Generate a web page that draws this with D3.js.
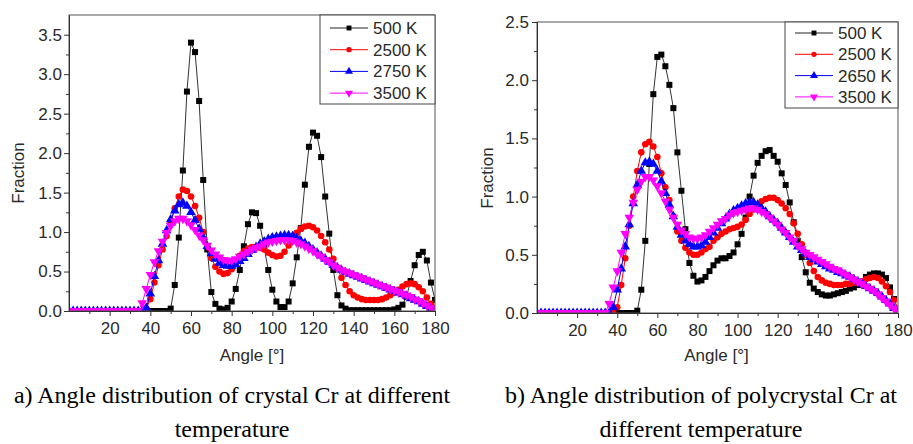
<!DOCTYPE html>
<html>
<head>
<meta charset="utf-8">
<script src="https://cdn.jsdelivr.net/npm/d3@7/dist/d3.min.js"></script>
<style>
  body { margin: 0; background: #fff; }
  svg { display: block; }
</style>
</head>
<body>
<svg id="fig" width="913" height="444"></svg>
<script>
// angles (degrees), one sample every 2 degrees
var angles = [0,2,4,6,8,10,12,14,16,18, 20,22,24,26,28,30,32,34,36,38,
  40,42,44,46,48,50,52,54,56,58, 60,62,64,66,68,70,72,74,76,78,
  80,82,84,86,88,90,92,94,96,98, 100,102,104,106,108,110,112,114,116,118,
  120,122,124,126,128,130,132,134,136,138, 140,142,144,146,148,150,152,154,156,158,
  160,162,164,166,168,170,172,174,176,178, 180];

// a) crystal Cr
var crystal500 = [0,0,0,0,0,0,0,0,0,0, 0,0,0,0,0,0,0,0,0,0,
  0,0,0,0,0,0.03,0.33,0.93,1.78,2.78, 3.40,3.28,2.66,1.66,0.78,0.24,0.09,0.03,0.02,0.04,
  0.12,0.28,0.52,0.82,1.10,1.25,1.24,1.08,0.80,0.52, 0.27,0.12,0.05,0.05,0.12,0.35,0.68,1.05,1.60,2.08,
  2.26,2.22,1.95,1.45,0.98,0.52,0.20,0.07,0.03,0.01, 0.01,0.01,0.01,0.01,0.01,0.01,0.01,0.01,0.01,0.01,
  0.02,0.04,0.08,0.18,0.38,0.58,0.71,0.75,0.64,0.36, 0.14];
var crystal2500 = [0,0,0,0,0,0,0,0,0,0, 0,0,0,0,0,0,0,0,0,0.03,
  0.15,0.36,0.58,0.78,0.95,1.12,1.30,1.45,1.54,1.52, 1.45,1.33,1.18,1.00,0.82,0.67,0.56,0.50,0.47,0.48,
  0.53,0.62,0.70,0.76,0.79,0.81,0.81,0.80,0.78,0.74, 0.71,0.69,0.70,0.75,0.83,0.92,0.99,1.04,1.07,1.08,
  1.06,1.02,0.95,0.87,0.78,0.66,0.54,0.42,0.33,0.25, 0.20,0.17,0.15,0.14,0.14,0.14,0.14,0.15,0.17,0.20,
  0.23,0.27,0.31,0.34,0.35,0.34,0.30,0.25,0.17,0.09, 0.04];
var crystal2750 = [0,0,0,0,0,0,0,0,0,0, 0,0,0,0,0,0,0,0,0,0.04,
  0.22,0.44,0.64,0.85,1.02,1.16,1.27,1.35,1.37,1.33, 1.25,1.15,1.04,0.93,0.82,0.73,0.66,0.61,0.58,0.57,
  0.57,0.59,0.63,0.67,0.72,0.77,0.81,0.85,0.88,0.91, 0.93,0.94,0.95,0.96,0.96,0.95,0.92,0.89,0.86,0.82,
  0.78,0.74,0.70,0.66,0.62,0.58,0.55,0.52,0.49,0.47, 0.45,0.43,0.41,0.39,0.37,0.35,0.33,0.31,0.29,0.27,
  0.25,0.23,0.21,0.19,0.16,0.14,0.12,0.09,0.06,0.03, 0.01];
var crystal3500 = [0,0,0,0,0,0,0,0,0,0, 0,0,0,0,0,0,0,0,0.10,0.28,
  0.46,0.62,0.76,0.88,0.99,1.08,1.14,1.17,1.17,1.14, 1.09,1.03,0.96,0.90,0.83,0.77,0.72,0.68,0.65,0.64,
  0.64,0.66,0.69,0.72,0.75,0.78,0.80,0.82,0.85,0.87, 0.88,0.89,0.90,0.90,0.90,0.89,0.87,0.85,0.82,0.79,
  0.76,0.72,0.69,0.65,0.62,0.58,0.55,0.52,0.50,0.48, 0.46,0.44,0.42,0.40,0.38,0.36,0.34,0.32,0.30,0.28,
  0.26,0.24,0.22,0.20,0.18,0.15,0.13,0.10,0.07,0.04, 0.01];

// b) polycrystal Cr
var poly500 = [0,0,0,0,0,0,0,0,0,0, 0,0,0,0,0,0,0,0,0,0,
  0,0,0,0,0,0.02,0.20,0.62,1.28,1.88, 2.20,2.22,2.12,1.96,1.76,1.38,1.05,0.72,0.43,0.32,
  0.27,0.28,0.31,0.36,0.41,0.45,0.47,0.47,0.49,0.52, 0.59,0.68,0.82,1.00,1.18,1.29,1.35,1.39,1.40,1.35,
  1.30,1.20,1.10,0.95,0.78,0.62,0.48,0.35,0.26,0.21, 0.18,0.16,0.15,0.15,0.16,0.17,0.18,0.19,0.21,0.22,
  0.24,0.27,0.31,0.33,0.34,0.34,0.33,0.30,0.22,0.12, 0.03];
var poly2500 = [0,0,0,0,0,0,0,0,0,0, 0,0,0,0,0,0,0,0,0,0,
  0.05,0.24,0.47,0.75,1.00,1.22,1.38,1.45,1.47,1.43, 1.34,1.20,1.08,0.97,0.83,0.70,0.62,0.56,0.52,0.50,
  0.50,0.52,0.55,0.57,0.62,0.65,0.68,0.70,0.72,0.73, 0.74,0.76,0.80,0.85,0.89,0.93,0.96,0.98,0.99,0.99,
  0.97,0.94,0.90,0.85,0.77,0.68,0.59,0.50,0.43,0.36, 0.31,0.28,0.26,0.25,0.24,0.24,0.24,0.25,0.25,0.26,
  0.26,0.27,0.29,0.30,0.31,0.30,0.27,0.23,0.18,0.11, 0.04];
var poly2650 = [0,0,0,0,0,0,0,0,0,0, 0,0,0,0,0,0,0,0,0,0.05,
  0.20,0.38,0.57,0.76,0.94,1.10,1.22,1.29,1.30,1.28, 1.22,1.13,1.03,0.93,0.83,0.74,0.67,0.62,0.59,0.57,
  0.57,0.58,0.61,0.65,0.69,0.73,0.77,0.81,0.85,0.88, 0.90,0.92,0.94,0.95,0.95,0.93,0.90,0.87,0.83,0.80,
  0.77,0.73,0.69,0.65,0.61,0.57,0.54,0.51,0.48,0.46, 0.44,0.42,0.40,0.38,0.37,0.35,0.34,0.32,0.31,0.29,
  0.27,0.25,0.23,0.21,0.19,0.17,0.14,0.11,0.08,0.04, 0.01];
var poly3500 = [0,0,0,0,0,0,0,0,0,0, 0,0,0,0,0,0,0,0,0.08,0.22,
  0.36,0.52,0.68,0.82,0.95,1.06,1.13,1.17,1.17,1.14, 1.09,1.03,0.96,0.89,0.82,0.76,0.71,0.68,0.65,0.64,
  0.64,0.65,0.67,0.70,0.73,0.76,0.79,0.81,0.84,0.86, 0.87,0.88,0.89,0.90,0.90,0.89,0.87,0.85,0.82,0.79,
  0.76,0.72,0.69,0.65,0.62,0.58,0.55,0.52,0.50,0.48, 0.46,0.44,0.42,0.40,0.38,0.37,0.35,0.33,0.31,0.29,
  0.27,0.25,0.23,0.21,0.19,0.16,0.13,0.10,0.07,0.04, 0.01];

var xTicks = [20, 40, 60, 80, 100, 120, 140, 160, 180];
var xMinorTicks = [10, 30, 50, 70, 90, 110, 130, 150, 170];
var yTicksA = [0, 0.5, 1.0, 1.5, 2.0, 2.5, 3.0, 3.5];
var yMinorA = [0.25, 0.75, 1.25, 1.75, 2.25, 2.75, 3.25];
var yTicksB = [0, 0.5, 1.0, 1.5, 2.0, 2.5];
var yMinorB = [0.25, 0.75, 1.25, 1.75, 2.25];

var labelsA = ["500 K", "2500 K", "2750 K", "3500 K"];
var labelsB = ["500 K", "2500 K", "2650 K", "3500 K"];
var colors = ["#000000", "#ff0000", "#0000ff", "#ff00ff"];
var symbols = [d3.symbolSquare, d3.symbolCircle, d3.symbolTriangle, d3.symbolTriangle];
var symbolSize = [36, 34, 40, 40];
var legendSize = [24, 22, 28, 28];
var symbolRot = [0, 0, 0, 180];

var svg = d3.select("#fig");
var sansFont = "'Liberation Sans', Arial, sans-serif";
var textColor = "#2a2a2a";

function drawPanel(p) {
    var x = d3.scaleLinear().domain([0, 180]).range([p.left, p.right]);
    var y = d3.scaleLinear().domain([0, p.ymax]).range([p.bottom, p.top]);

    var g = svg.append("g");

    // clip so markers get cut at the frame like the original
    g.append("clipPath").attr("id", p.id + "-clip")
        .append("rect")
        .attr("x", p.left).attr("y", p.top)
        .attr("width", p.right - p.left).attr("height", p.bottom - p.top);

    var plot = g.append("g").attr("clip-path", "url(#" + p.id + "-clip)");

    var line = d3.line()
        .x(function (d) { return x(d[0]); })
        .y(function (d) { return y(d[1]); });

    p.series.forEach(function (vals, k) {
        var pts = angles.map(function (a, i) { return [a, vals[i]]; });
        plot.append("path")
            .datum(pts)
            .attr("d", line)
            .attr("fill", "none")
            .attr("stroke", k === 0 ? "#333" : colors[k])
            .attr("stroke-width", 1);
        plot.selectAll(".m" + k)
            .data(pts)
            .enter()
            .append("path")
            .attr("d", d3.symbol().type(symbols[k]).size(symbolSize[k]))
            .attr("transform", function (d) {
                return "translate(" + x(d[0]) + "," + y(d[1]) + ") rotate(" + symbolRot[k] + ")";
            })
            .attr("fill", colors[k]);
    });

    // frame
    g.append("rect")
        .attr("x", p.left).attr("y", p.top)
        .attr("width", p.right - p.left).attr("height", p.bottom - p.top)
        .attr("fill", "none").attr("stroke", "#555").attr("stroke-width", 1);

    // axes
    g.append("g")
        .attr("transform", "translate(0," + p.bottom + ")")
        .call(d3.axisBottom(x).tickValues(xTicks).tickSize(5).tickPadding(6).tickSizeOuter(0));
    g.append("g")
        .attr("transform", "translate(0," + p.bottom + ")")
        .call(d3.axisBottom(x).tickValues(xMinorTicks).tickSize(3).tickFormat("").tickSizeOuter(0));

    g.append("g")
        .attr("transform", "translate(" + p.left + ",0)")
        .call(d3.axisLeft(y).tickValues(p.yTicks).tickSize(5).tickPadding(p.yPad)
            .tickFormat(d3.format(".1f")).tickSizeOuter(0));
    g.append("g")
        .attr("transform", "translate(" + p.left + ",0)")
        .call(d3.axisLeft(y).tickValues(p.yMinor).tickSize(3).tickFormat("").tickSizeOuter(0));

    g.selectAll(".domain, .tick line").attr("stroke", "#333");
    g.selectAll(".tick text")
        .attr("font-family", sansFont)
        .attr("font-size", 17)
        .attr("fill", textColor);

    // axis titles
    g.append("text")
        .attr("x", (p.left + p.right) / 2 + p.xTitleShift)
        .attr("y", 361)
        .attr("text-anchor", "middle")
        .attr("font-family", sansFont).attr("font-size", 17).attr("fill", textColor)
        .text("Angle [°]");
    g.append("text")
        .attr("transform", "translate(" + p.yTitleX + "," + p.yTitleY + ") rotate(-90)")
        .attr("text-anchor", "middle")
        .attr("font-family", sansFont).attr("font-size", 17).attr("fill", textColor)
        .text("Fraction");

    // legend
    var lg = g.append("g");
    lg.append("rect")
        .attr("x", p.legX).attr("y", p.top)
        .attr("width", p.right - p.legX).attr("height", p.legH)
        .attr("fill", "#fff").attr("stroke", "#444").attr("stroke-width", 1);
    p.labels.forEach(function (lab, k) {
        var ry = p.top + p.legRow0 + k * p.legStep;
        lg.append("line")
            .attr("x1", p.legX + 10).attr("x2", p.legX + 48)
            .attr("y1", ry).attr("y2", ry)
            .attr("stroke", k === 0 ? "#222" : colors[k]).attr("stroke-width", 1);
        lg.append("path")
            .attr("d", d3.symbol().type(symbols[k]).size(legendSize[k]))
            .attr("transform", "translate(" + (p.legX + 29) + "," + ry + ") rotate(" + symbolRot[k] + ")")
            .attr("fill", colors[k]);
        lg.append("text")
            .attr("x", p.legX + 53).attr("y", ry + 6)
            .attr("font-family", sansFont).attr("font-size", 17).attr("fill", textColor)
            .text(lab);
    });

    // caption
    p.caption.forEach(function (c, i) {
        g.append("text")
            .attr("x", p.capX).attr("y", 403 + i * 34)
            .attr("text-anchor", "middle")
            .attr("font-family", "'Liberation Serif', 'Times New Roman', serif")
            .attr("font-size", 24).attr("fill", "#000")
            .text(c);
    });
}

drawPanel({
    id: "a", left: 69, right: 435, top: 15, bottom: 311, ymax: 3.75,
    yTicks: yTicksA, yMinor: yMinorA, yPad: 2,
    series: [crystal500, crystal2500, crystal2750, crystal3500],
    labels: labelsA,
    legX: 320, legH: 89, legRow0: 13, legStep: 21.7,
    xTitleShift: 0, yTitleX: 24, yTitleY: 173,
    capX: 232,
    caption: ["a) Angle distribution of crystal Cr at different", "temperature"]
});

drawPanel({
    id: "b", left: 537, right: 898, top: 22, bottom: 313, ymax: 2.5,
    yTicks: yTicksB, yMinor: yMinorB, yPad: 3,
    series: [poly500, poly2500, poly2650, poly3500],
    labels: labelsB,
    legX: 785, legH: 86, legRow0: 11, legStep: 21.3,
    xTitleShift: -1, yTitleX: 493, yTitleY: 178,
    capX: 701,
    caption: ["b) Angle distribution of polycrystal Cr at", "different temperature"]
});
</script>
</body>
</html>
